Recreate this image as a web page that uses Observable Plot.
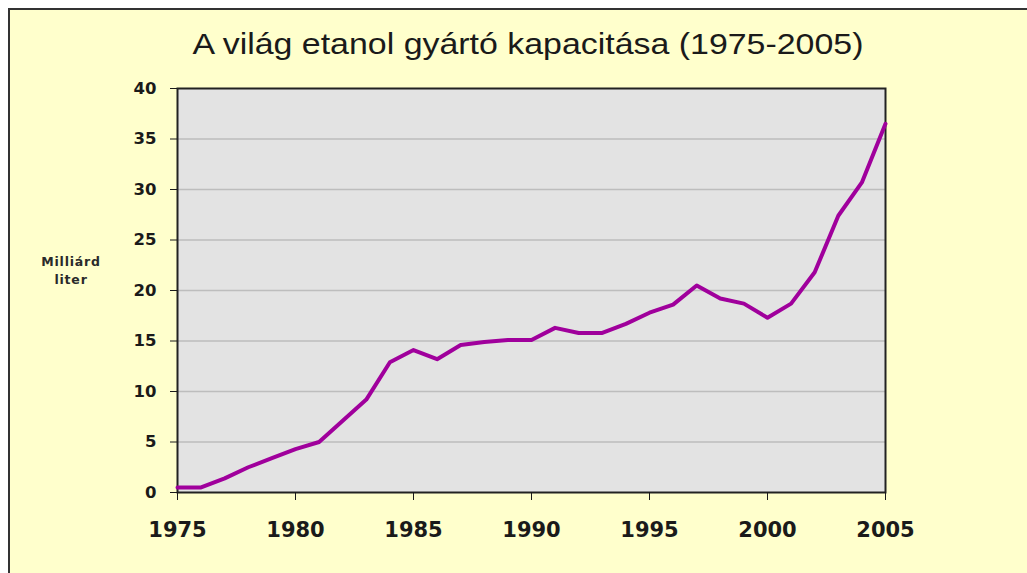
<!DOCTYPE html>
<html>
<head>
<meta charset="utf-8">
<script src="https://cdn.jsdelivr.net/npm/d3@7"></script>
<script src="https://cdn.jsdelivr.net/npm/@observablehq/plot@0.6"></script>
<style>
  html, body { margin: 0; padding: 0; background: #ffffff; width: 1027px; height: 573px; overflow: hidden; }
  #frame { position: absolute; left: 8px; top: 8px; width: 1040px; height: 590px; background: #ffffcc; border: 2px solid #333; box-sizing: border-box; }
  #title { position: absolute; left: 528px; top: 29px; line-height: 30px; white-space: nowrap; transform: translateX(-50%) scaleX(1.13); font-family: "Liberation Sans", Arial, sans-serif; font-size: 30px; color: #1a1a1a; }
  #ylab { position: absolute; left: 21px; top: 253px; width: 100px; text-align: center; font-family: "DejaVu Sans", sans-serif; font-size: 12.5px; letter-spacing: 0.8px; line-height: 18px; color: #2a2a2a; font-weight: bold; }
  #chart { position: absolute; left: 0; top: 0; }
</style>
</head>
<body>
<div id="frame"></div>
<div id="title">A világ etanol gyártó kapacitása (1975-2005)</div>
<div id="ylab">Milliárd<br>liter</div>
<div id="chart"></div>
<script>
const years = [1975,1976,1977,1978,1979,1980,1981,1982,1983,1984,1985,1986,1987,1988,1989,1990,1991,1992,1993,1994,1995,1996,1997,1998,1999,2000,2001,2002,2003,2004,2005];
const capacity = [0.5,0.5,1.4,2.5,3.4,4.3,5.0,7.1,9.2,12.9,14.1,13.2,14.6,14.9,15.1,15.1,16.3,15.8,15.8,16.7,17.8,18.6,20.5,19.2,18.7,17.3,18.7,21.8,27.4,30.7,36.5];
const yTicks = [0,5,10,15,20,25,30,35,40];
const xTicks = [1975,1980,1985,1990,1995,2000,2005];
const gridY = [5,10,15,20,25,30,35];

const data = years.map((y, i) => ({year: y, value: capacity[i]}));

const chart = Plot.plot({
  width: 1027,
  height: 573,
  marginLeft: 177,
  marginRight: 142,
  marginTop: 88,
  marginBottom: 81,
  style: {background: "transparent", fontFamily: "DejaVu Sans, sans-serif", color: "#1a1a1a", overflow: "visible"},
  x: {domain: [1975, 2005]},
  y: {domain: [0, 40]},
  marks: [
    Plot.frame({fill: "#e3e3e3", stroke: "none"}),
    Plot.ruleY(gridY, {stroke: "#bdbdbd", strokeWidth: 1.5}),
    Plot.frame({stroke: "#222", strokeWidth: 2}),
    Plot.axisY({ticks: yTicks, tickSize: 7, tickPadding: 14, fontSize: 16.5, fontWeight: "bold", label: null, tickFormat: d => String(d)}),
    Plot.axisX({ticks: xTicks, tickSize: 8, tickPadding: 22, fontSize: 21, fontWeight: "bold", label: null, tickFormat: d => String(d)}),
    Plot.line(data, {x: "year", y: "value", stroke: "#a0009c", strokeWidth: 4, strokeLinejoin: "round", strokeLinecap: "round"})
  ]
});
document.getElementById("chart").appendChild(chart);
</script>
</body>
</html>
